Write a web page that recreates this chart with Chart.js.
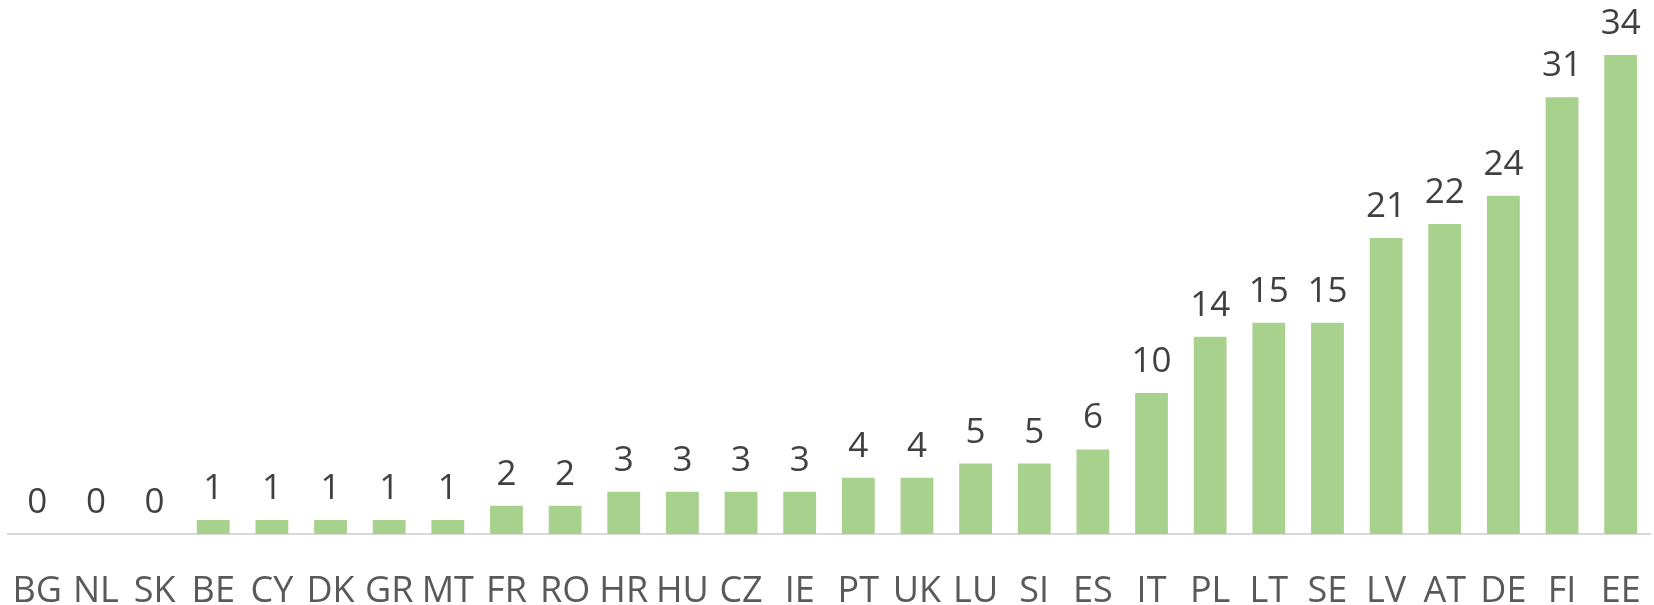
<!DOCTYPE html>
<html>
<head>
<meta charset="utf-8">
<script src="https://cdn.jsdelivr.net/npm/chart.js@4"></script>
<style>
  html, body { margin: 0; padding: 0; background: #fff; }
  #wrap { width: 1654px; height: 605px; }
</style>
</head>
<body>
<div id="wrap"><canvas id="bars"></canvas></div>
<script>
var countries = ['BG','NL','SK','BE','CY','DK','GR','MT','FR','RO','HR','HU','CZ','IE','PT','UK','LU','SI','ES','IT','PL','LT','SE','LV','AT','DE','FI','EE'];
var counts = [0,0,0,1,1,1,1,1,2,2,3,3,3,3,4,4,5,5,6,10,14,15,15,21,22,24,31,34];

var fontName = '"Open Sans", sans-serif';

// value labels above each bar
var barLabels = {
    id: 'barLabels',
    afterDatasetsDraw: function(chart) {
        var ctx = chart.ctx;
        var meta = chart.getDatasetMeta(0);
        ctx.save();
        ctx.font = '35px ' + fontName;
        ctx.fillStyle = '#404040';
        ctx.textAlign = 'center';
        ctx.textBaseline = 'alphabetic';
        meta.data.forEach(function(bar, i) {
            ctx.fillText(String(counts[i]), bar.x, bar.y - 21);
        });
        ctx.restore();
    }
};

var c = new Chart(document.getElementById('bars').getContext('2d'), {
    type: 'bar',
    data: {
        labels: countries,
        datasets: [{
            data: counts,
            backgroundColor: '#A9D18E',
            borderWidth: 0,
            barPercentage: 0.56,
            categoryPercentage: 1.0
        }]
    },
    options: {
        responsive: true,
        maintainAspectRatio: false,
        animation: false,
        layout: { padding: { left: 8, right: 4, top: 0, bottom: 0 } },
        plugins: {
            legend: { display: false },
            tooltip: { enabled: false }
        },
        scales: {
            x: {
                grid: { display: false, drawTicks: true, tickLength: 34 },
                border: { display: true, color: '#D9D9D9', width: 2 },
                ticks: {
                    color: '#595959',
                    font: { family: fontName, size: 36 },
                    padding: 2,
                    maxRotation: 0,
                    autoSkip: false
                },
                afterFit: function(scale) { scale.height = 71; }
            },
            y: {
                display: false,
                min: 0,
                max: 37.9
            }
        }
    },
    plugins: [barLabels]
});
</script>
</body>
</html>
